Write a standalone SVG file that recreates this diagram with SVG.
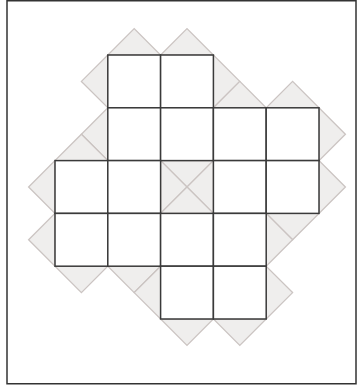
<svg xmlns="http://www.w3.org/2000/svg" width="358" height="389" viewBox="0 0 358 389">
<style>
.t{fill:#efeeed;stroke:#cbc4c2;stroke-width:1.3;stroke-linejoin:miter}
.s{fill:#ffffff;stroke:#3a3a3a;stroke-width:1.5}
.b{fill:#ffffff;stroke:#333333;stroke-width:1.5}
</style>
<rect class="b" x="7" y="0.75" width="349" height="383"/>
<g id="triangles">
<polygon class="t" points="107.8,55 160.6,55 134.2,28.6"/>
<polygon class="t" points="107.8,55 107.8,107.8 81.4,81.4"/>
<polygon class="t" points="160.6,55 213.4,55 187,28.6"/>
<polygon class="t" points="213.4,55 213.4,107.8 239.8,81.4"/>
<polygon class="t" points="107.8,107.8 107.8,160.6 81.4,134.2"/>
<polygon class="t" points="160.6,160.6 213.4,160.6 187,187"/>
<polygon class="t" points="213.4,107.8 266.2,107.8 239.8,81.4"/>
<polygon class="t" points="266.2,107.8 319,107.8 292.6,81.4"/>
<polygon class="t" points="319,107.8 319,160.6 345.4,134.2"/>
<polygon class="t" points="55,160.6 107.8,160.6 81.4,134.2"/>
<polygon class="t" points="55,160.6 55,213.4 28.6,187"/>
<polygon class="t" points="160.6,160.6 160.6,213.4 187,187"/>
<polygon class="t" points="213.4,160.6 213.4,213.4 187,187"/>
<polygon class="t" points="319,160.6 319,213.4 345.4,187"/>
<polygon class="t" points="266.2,213.4 319,213.4 292.6,239.8"/>
<polygon class="t" points="55,213.4 55,266.2 28.6,239.8"/>
<polygon class="t" points="55,266.2 107.8,266.2 81.4,292.6"/>
<polygon class="t" points="107.8,266.2 160.6,266.2 134.2,292.6"/>
<polygon class="t" points="160.6,213.4 213.4,213.4 187,187"/>
<polygon class="t" points="266.2,213.4 266.2,266.2 292.6,239.8"/>
<polygon class="t" points="160.6,266.2 160.6,319 134.2,292.6"/>
<polygon class="t" points="160.6,319 213.4,319 187,345.4"/>
<polygon class="t" points="266.2,266.2 266.2,319 292.6,292.6"/>
<polygon class="t" points="213.4,319 266.2,319 239.8,345.4"/>
</g>
<g id="squares">
<rect class="s" x="107.8" y="55" width="52.8" height="52.8"/>
<rect class="s" x="160.6" y="55" width="52.8" height="52.8"/>
<rect class="s" x="107.8" y="107.8" width="52.8" height="52.8"/>
<rect class="s" x="160.6" y="107.8" width="52.8" height="52.8"/>
<rect class="s" x="213.4" y="107.8" width="52.8" height="52.8"/>
<rect class="s" x="266.2" y="107.8" width="52.8" height="52.8"/>
<rect class="s" x="55" y="160.6" width="52.8" height="52.8"/>
<rect class="s" x="107.8" y="160.6" width="52.8" height="52.8"/>
<rect class="s" x="213.4" y="160.6" width="52.8" height="52.8"/>
<rect class="s" x="266.2" y="160.6" width="52.8" height="52.8"/>
<rect class="s" x="55" y="213.4" width="52.8" height="52.8"/>
<rect class="s" x="107.8" y="213.4" width="52.8" height="52.8"/>
<rect class="s" x="160.6" y="213.4" width="52.8" height="52.8"/>
<rect class="s" x="213.4" y="213.4" width="52.8" height="52.8"/>
<rect class="s" x="160.6" y="266.2" width="52.8" height="52.8"/>
<rect class="s" x="213.4" y="266.2" width="52.8" height="52.8"/>
</g>
</svg>
